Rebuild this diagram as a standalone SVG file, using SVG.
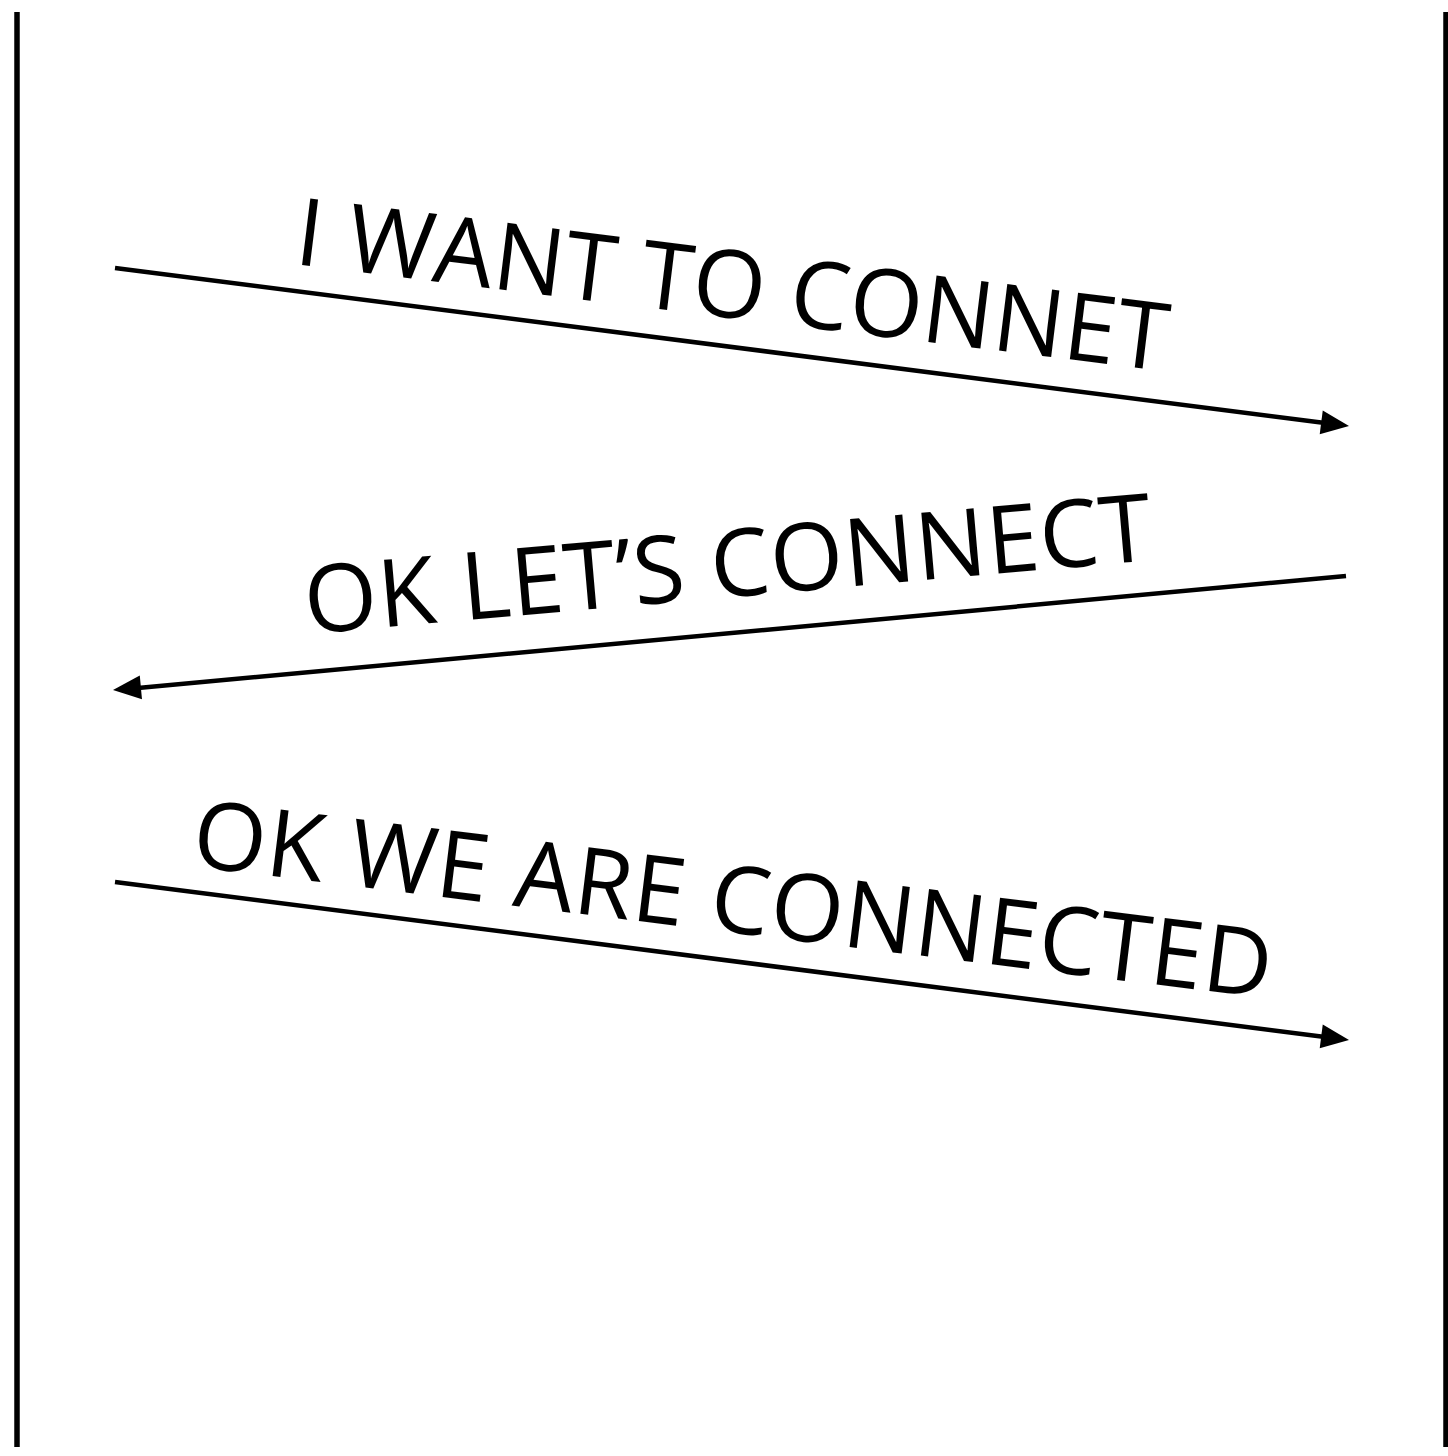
<svg xmlns="http://www.w3.org/2000/svg" width="1448" height="1456" viewBox="0 0 1448 1456">
<style>
.life{stroke:#000;stroke-width:5.5;fill:none}
.msg{stroke:#000;stroke-width:4.5;fill:none}
.head{fill:#000}
.lbl{font-family:"Open Sans","Noto Sans",sans-serif;font-size:94px;fill:#000}
</style>
<defs>
<path id="ah" d="M-28,-12 L0,0 L-28,12 Z"/>
</defs>
<rect width="1448" height="1456" fill="#fff"/>
<g id="lifeline-left"><line class="life" x1="17" y1="12" x2="17" y2="1447"/></g>
<g id="lifeline-right"><line class="life" x1="1446" y1="12" x2="1446" y2="1447"/></g>
<g id="connectors">
<line class="msg" x1="115" y1="268" x2="1325" y2="423"/>
<use href="#ah" class="head" transform="translate(1349,426) rotate(7.3)"/>
<line class="msg" x1="1346" y1="576" x2="138" y2="688"/>
<use href="#ah" class="head" transform="translate(113,690) rotate(174.7)"/>
<line class="msg" x1="115" y1="882" x2="1325" y2="1037"/>
<use href="#ah" class="head" transform="translate(1349,1040) rotate(7.3)"/>
</g>
<g id="label-1"><text class="lbl" transform="translate(293,264) rotate(7)" textLength="878">I WANT TO CONNET</text></g>
<g id="label-2"><text class="lbl" transform="translate(307,634) rotate(-5)" textLength="850">OK LET’S CONNECT</text></g>
<g id="label-3"><text class="lbl" transform="translate(190,866) rotate(7)" textLength="1086">OK WE ARE CONNECTED</text></g>
</svg>
